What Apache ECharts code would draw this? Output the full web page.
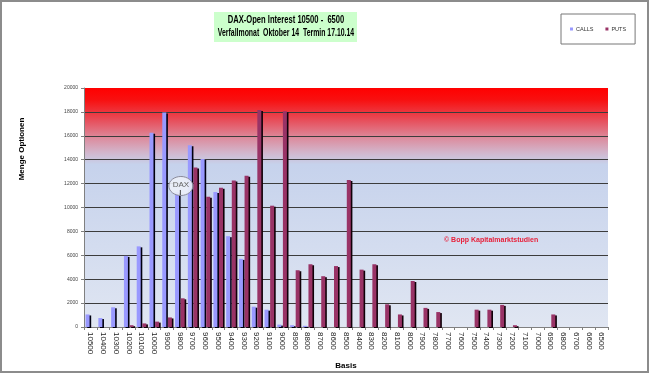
<!DOCTYPE html>
<html><head><meta charset="utf-8">
<script src="https://cdn.jsdelivr.net/npm/echarts@6/dist/echarts.min.js"></script>
<style>html,body{margin:0;padding:0;background:#fff}#c{width:650px;height:376px}</style>
</head><body><div id="c"></div>
<script>
const categories = ['10500','10400','10300','10200','10100','10000','9900','9800','9700','9600','9500','9400','9300','9200','9100','9000','8900','8800','8700','8600','8500','8400','8300','8200','8100','8000','7900','7800','7700','7600','7500','7400','7300','7200','7100','7000','6900','6800','6700','6600','6500'];
const calls = [1050,750,1650,5950,6750,16250,17950,11300,15200,14050,11300,7600,5700,1700,1450,200,150,100,0,0,0,0,0,0,0,0,0,0,0,0,0,0,0,0,0,0,0,0,0,0,0];
const puts = [0,0,0,150,300,450,800,2400,13350,10900,11650,12250,12650,18150,10150,18050,4750,5250,4250,5100,12300,4800,5250,1900,1050,3850,1600,1250,0,0,1450,1450,1850,150,0,0,1050,0,0,0,0];
const seriesNames = ['CALLS','PUTS'];
const yMin = 0, yMax = 20000, yStep = 2000;
const titleLines = ['DAX-Open Interest 10500 -  6500', 'Verfallmonat  Oktober 14  Termin 17.10.14'];
const yName = 'Menge Optionen';
const xName = 'Basis';
const copyright = '\u00A9 Bopp Kapitalmarktstudien';
const daxLabel = 'DAX';
const daxAt = ['9800', 11800];

const FONT = 'Arial, "Liberation Sans", sans-serif';
const chart = echarts.init(document.getElementById('c'), null, {renderer: 'canvas'});
const bg = new echarts.graphic.LinearGradient(0, 0, 0, 1, [
  {offset: 0, color: '#ff0000'},
  {offset: 0.05, color: '#f81010'},
  {offset: 0.13, color: '#e84a56'},
  {offset: 0.21, color: '#dc8c9e'},
  {offset: 0.27, color: '#d2b6cc'},
  {offset: 0.32, color: '#c6d2ec'},
  {offset: 1, color: '#e0e6f2'}
]);
chart.setOption({
  animation: false,
  backgroundColor: '#ffffff',
  textStyle: {fontFamily: FONT},
  legend: {
    data: seriesNames,
    left: 561, top: 14,
    width: 72, height: 29,
    padding: [12, 9, 12, 9],
    itemWidth: 3, itemHeight: 3, itemGap: 12,
    icon: 'rect',
    backgroundColor: '#fff',
    borderColor: '#777', borderWidth: 1,
    textStyle: {fontSize: 5.5, color: '#333', padding: [0, 0, 0, -2]}
  },
  grid: {
    left: 84, right: 42, top: 88, bottom: 49,
    show: true, backgroundColor: bg, borderWidth: 0
  },
  xAxis: {
    type: 'category', data: categories,
    name: xName, nameLocation: 'middle', nameGap: 35,
    nameTextStyle: {fontSize: 8, fontWeight: 'bold', color: '#000'},
    axisLine: {lineStyle: {color: '#808080', width: 1}},
    axisTick: {show: true, length: 3, lineStyle: {color: '#808080'}},
    axisLabel: {interval: 0, rotate: -90, fontSize: 8, color: '#222', margin: 5}
  },
  yAxis: {
    type: 'value', min: yMin, max: yMax, interval: yStep,
    axisLine: {show: true, lineStyle: {color: '#808080'}},
    axisTick: {show: true, length: 3, lineStyle: {color: '#808080'}},
    axisLabel: {fontSize: 5, color: '#444', margin: 6, formatter: v => String(v)},
    splitLine: {show: true, showMaxLine: false, showMinLine: false, lineStyle: {color: '#3c3c3c', width: 1}}
  },
  series: [
    {
      name: seriesNames[0], type: 'bar', data: calls,
      barWidth: 4, barGap: '40%',
      itemStyle: {color: '#9999ff', shadowColor: '#000010', shadowOffsetX: 1.6, shadowOffsetY: 1, shadowBlur: 0}
    },
    {
      name: seriesNames[1], type: 'bar', data: puts,
      barWidth: 4, barGap: '40%',
      itemStyle: {color: '#993366', shadowColor: '#100008', shadowOffsetX: 1.6, shadowOffsetY: 1, shadowBlur: 0}
    }
  ]
});
const p = chart.convertToPixel({xAxisIndex: 0, yAxisIndex: 0}, daxAt);
chart.setOption({
  graphic: [
    {type: 'rect', shape: {x: 1, y: 1, width: 647, height: 371}, style: {fill: 'none', stroke: '#8c8c8c', lineWidth: 2}, silent: true, z: 100},
    {type: 'rect', shape: {x: 214, y: 12, width: 143, height: 30}, style: {fill: '#ccffcc'}, z: 10},
    {type: 'text', x: 286, y: 20.5, scaleX: 0.76, style: {text: titleLines[0], font: 'bold 10px ' + FONT, fill: '#000', align: 'center', verticalAlign: 'middle'}, z: 11},
    {type: 'text', x: 286, y: 33.5, scaleX: 0.69, style: {text: titleLines[1], font: 'bold 10px ' + FONT, fill: '#000', align: 'center', verticalAlign: 'middle'}, z: 11},
    {type: 'text', x: 22, y: 149, rotation: Math.PI / 2, style: {text: yName, font: 'bold 8px ' + FONT, fill: '#000', align: 'center', verticalAlign: 'middle'}},
    {type: 'text', x: 444, y: 240, style: {text: copyright, font: 'bold 7px ' + FONT, fill: '#e8203a', align: 'left', verticalAlign: 'middle'}, z: 50},
    {type: 'ellipse', shape: {cx: p[0] + 1, cy: p[1], rx: 12, ry: 9.5}, style: {fill: 'rgba(236,240,248,0.9)', stroke: '#8a8a9a', lineWidth: 1}, z: 50},
    {type: 'text', x: p[0] + 1, y: p[1] - 1.5, style: {text: daxLabel, font: '8px ' + FONT, fill: '#666', align: 'center', verticalAlign: 'middle'}, z: 51},
    {type: 'line', shape: {x1: p[0] + 0.5, y1: p[1] + 4, x2: p[0] + 0.5, y2: p[1] + 9}, style: {stroke: '#444', lineWidth: 1}, z: 51}
  ]
});
</script>
</body></html>
